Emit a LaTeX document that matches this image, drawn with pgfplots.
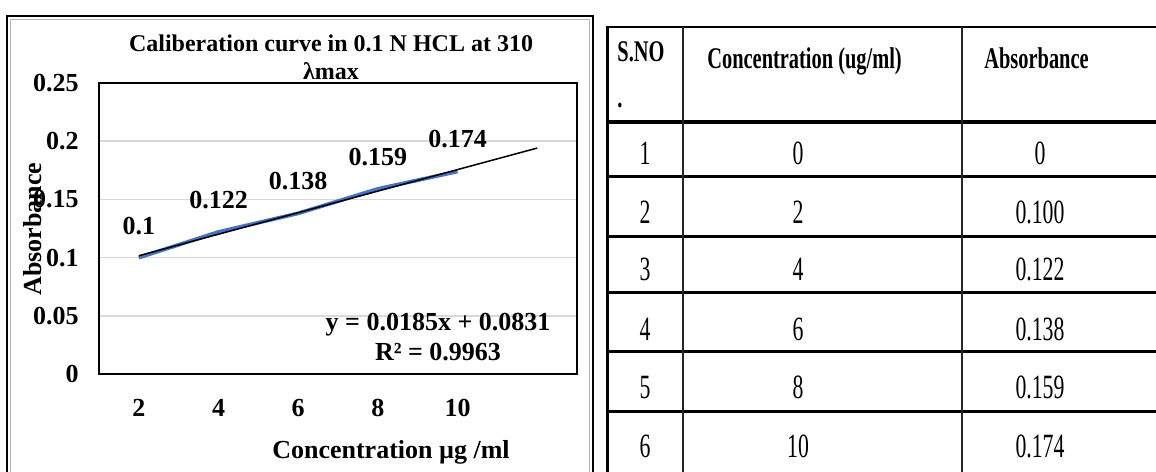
\documentclass[border=0pt]{standalone}
\usepackage{fontspec}
\setmainfont{Liberation Serif}
\newfontfamily\tabbody[FakeStretch=0.64]{Liberation Serif}
\newfontfamily\tabhead[FakeStretch=0.68]{Liberation Serif}
\usepackage{pgfplots}
\pgfplotsset{compat=1.18}
\definecolor{excelblue}{HTML}{4472C4}
\definecolor{gridgray}{HTML}{D9D9D9}

\begin{document}
\begin{tikzpicture}
\useasboundingbox (0,0) rectangle (578pt,235.5pt);

% chart frame
\draw[black, line width=1.4pt] (3.5pt,-5pt) -- (3.5pt,227.5pt) -- (296.5pt,227.5pt) -- (296.5pt,-5pt);
\draw[gray!60, line width=0.5pt] (5.2pt,-5pt) -- (5.2pt,225.8pt) -- (294.8pt,225.8pt) -- (294.8pt,-5pt);

\begin{axis}[
  at={(49.5pt,48.5pt)}, anchor=south west,
  width=239pt, height=145.5pt, scale only axis,
  xmin=1, xmax=13, ymin=0, ymax=0.25,
  xtick={2,4,6,8,10}, xticklabels={2,4,6,8,10},
  ytick={0,0.05,0.1,0.15,0.2,0.25},
  yticklabels={0,0.05,0.1,0.15,0.2,0.25},
  major tick length=0pt,
  ymajorgrids, grid style={draw=gridgray, line width=0.8pt},
  axis line style={black, line width=0.6pt},
  /pgf/number format/assume math mode=true,
  tick label style={font=\fontsize{13}{15}\selectfont\bfseries},
  yticklabel style={anchor=east, inner sep=0pt, xshift=-10pt},
  xticklabel style={anchor=center, inner sep=0pt, yshift=-17pt},
  clip=false,
]
% measured absorbance
\addplot[excelblue, line width=1.9pt,
  point meta=explicit symbolic,
  nodes near coords,
  nodes near coords align={anchor=center},
  every node near coord/.append style={font=\fontsize{13}{15}\selectfont\bfseries, text=black, yshift=16pt}]
  coordinates {
  (2,0.100) [0.1]
  (4,0.122) [0.122]
  (6,0.138) [0.138]
  (8,0.159) [0.159]
  (10,0.174) [0.174]
};
% linear trendline, y = 0.0185x + 0.0831 over category index 1..6
\addplot[black, line width=0.75pt] coordinates {(2,0.1016) (12,0.1941)};
\end{axis}

% titles and labels
\node[font=\fontsize{12}{14}\selectfont\bfseries] at (165.5pt,214pt) {Caliberation curve in 0.1 N HCL at 310};
\node[font=\fontsize{12}{14}\selectfont\bfseries] at (165.5pt,200pt) {λmax};
\node[font=\fontsize{13}{15}\selectfont\bfseries, rotate=90] at (16.5pt,121pt) {Absorbance};
\node[font=\fontsize{13}{15}\selectfont\bfseries] at (195.5pt,9.5pt) {Concentration µg /ml};
\node[font=\fontsize{13}{15}\selectfont\bfseries] at (219pt,73pt) {y = 0.0185x + 0.0831};
\node[font=\fontsize{13}{15}\selectfont\bfseries] at (219pt,59.5pt) {R² = 0.9963};

% data table
\begin{scope}
\foreach \y/\w in {222/1.3pt,174.5/1.8pt,147/1.5pt,117/1.5pt,89/1.5pt,59.5/1.5pt,29.5/1.5pt}
  \draw[black, line width=\w] (303.5pt,\y pt) -- (585pt,\y pt);
\draw[black, line width=1.5pt] (303.5pt,222.6pt) -- (303.5pt,-5pt);
\draw[black!85, line width=0.9pt] (341.5pt,222pt) -- (341.5pt,-5pt);
\draw[black!85, line width=0.9pt] (481pt,222pt) -- (481pt,-5pt);

\node[anchor=base west, inner sep=0pt, font=\fontsize{15}{17}\selectfont\tabhead\bfseries] at (308.5pt,204.5pt) {S.NO};
\node[anchor=base west, inner sep=0pt, font=\fontsize{15}{17}\selectfont\tabhead\bfseries] at (308.5pt,181.5pt) {.};
\node[anchor=base west, inner sep=0pt, font=\fontsize{15}{17}\selectfont\tabhead\bfseries] at (353.5pt,201pt) {Concentration (ug/ml)};
\node[anchor=base west, inner sep=0pt, font=\fontsize{15}{17}\selectfont\tabhead\bfseries] at (492pt,201pt) {Absorbance};

\foreach \y/\n/\c/\a in {159/1/0/0, 129.5/2/2/0.100, 101/3/4/0.122, 71/4/6/0.138, 41.75/5/8/0.159, 12.5/6/10/0.174} {
  \node[inner sep=0pt, font=\fontsize{17}{19}\selectfont\tabbody] at (322.5pt,\y pt) {\n};
  \node[inner sep=0pt, font=\fontsize{17}{19}\selectfont\tabbody] at (399pt,\y pt) {\c};
  \node[inner sep=0pt, font=\fontsize{17}{19}\selectfont\tabbody] at (520pt,\y pt) {\a};
}
\end{scope}
\end{tikzpicture}
\end{document}
